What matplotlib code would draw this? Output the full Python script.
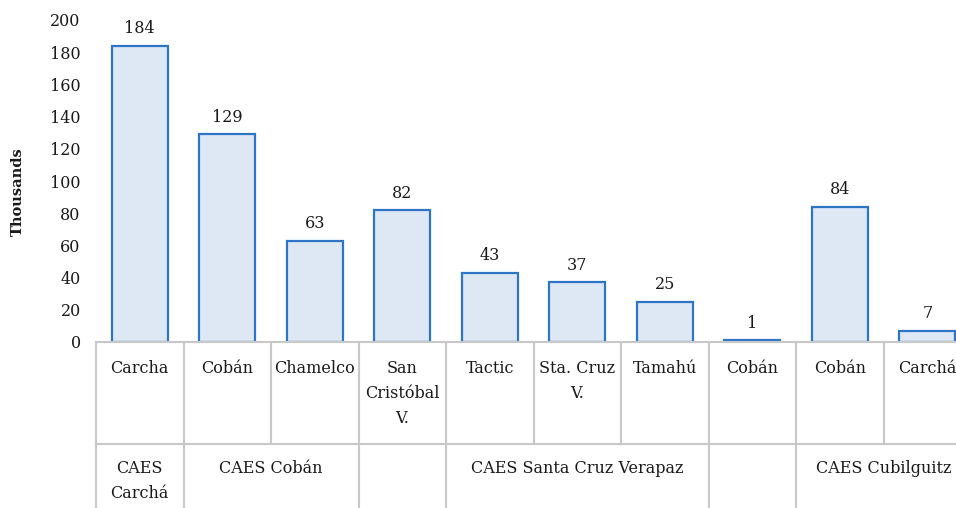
import numpy as np
import matplotlib
matplotlib.use('Agg')
import matplotlib.pyplot as plt
import matplotlib.transforms as mtransforms

# data
categories = ['Carcha', 'Cobán', 'Chamelco', 'San\nCristóbal\nV.', 'Tactic',
              'Sta. Cruz\nV.', 'Tamahú', 'Cobán', 'Cobán', 'Carchá']
values = [184, 129, 63, 82, 43, 37, 25, 1, 84, 7]
group_names = ['CAES\nCarchá', 'CAES Cobán', '', 'CAES Santa Cruz Verapaz', '', 'CAES Cubilguitz']
group_sizes = [1, 2, 1, 3, 1, 2]
yticks = list(range(0, 201, 20))

plt.rcParams['font.family'] = 'DejaVu Serif'

W, H = 956, 508
fig = plt.figure(figsize=(W / 100, H / 100), dpi=100)
ax_left, ax_bottom = 96 / W, 1 - 342 / H
ax_w, ax_h = 875 / W, 322 / H
ax = fig.add_axes([ax_left, ax_bottom, ax_w, ax_h])

x = np.arange(len(values))
bars = ax.bar(x, values, width=0.64, color='#dee8f5', edgecolor='#2e75c6', linewidth=1.6)
for xi, v in zip(x, values):
    ax.annotate(str(v), (xi, v), xytext=(0, 6), textcoords='offset points',
                ha='center', va='bottom', fontsize=11.5, color='#1a1a1a')

ax.set_xlim(-0.5, len(values) - 0.5)
ax.set_ylim(0, 200)
ax.set_yticks(yticks)
ax.tick_params(axis='y', length=0, pad=11, labelsize=11.5, labelcolor='#1a1a1a')
ax.set_xticks([])
for s in ['top', 'right', 'left']:
    ax.spines[s].set_visible(False)
ax.spines['bottom'].set_color('#c8c8c8')
ax.spines['bottom'].set_linewidth(1.5)

# multi-level category table below the axis
trans = mtransforms.blended_transform_factory(ax.transData, ax.transAxes)
grid_c = '#c8c8c8'
row1 = (342 - 444) / 322
row2 = (342 - 520) / 322
lab1_y = (342 - 360) / 322
lab2_y = (342 - 460) / 322

for i in range(len(values) + 1):
    ax.plot([i - 0.5, i - 0.5], [0, row1], transform=trans, color=grid_c,
            lw=1.5, clip_on=False)
ax.plot([-0.5, len(values) - 0.5], [row1, row1], transform=trans, color=grid_c,
        lw=1.5, clip_on=False)

for xi, lab in zip(x, categories):
    ax.text(xi, lab1_y, lab, transform=trans, ha='center', va='top',
            fontsize=11.5, linespacing=1.62, color='#1a1a1a')

start = 0
for name, size in zip(group_names, group_sizes):
    ax.plot([start - 0.5, start - 0.5], [row1, row2], transform=trans,
            color=grid_c, lw=1.5, clip_on=False)
    center = start + (size - 1) / 2
    if name:
        ax.text(center, lab2_y, name, transform=trans, ha='center', va='top',
                fontsize=11.5, linespacing=1.62, color='#1a1a1a')
    start += size
ax.plot([start - 0.5, start - 0.5], [row1, row2], transform=trans,
        color=grid_c, lw=1.5, clip_on=False)

fig.text(18 / W, 1 - 192 / H, 'Thousands', rotation=90, ha='center', va='center',
         fontsize=10.5, fontweight='bold', color='#1a1a1a')

fig.savefig('out.png', dpi=100)
